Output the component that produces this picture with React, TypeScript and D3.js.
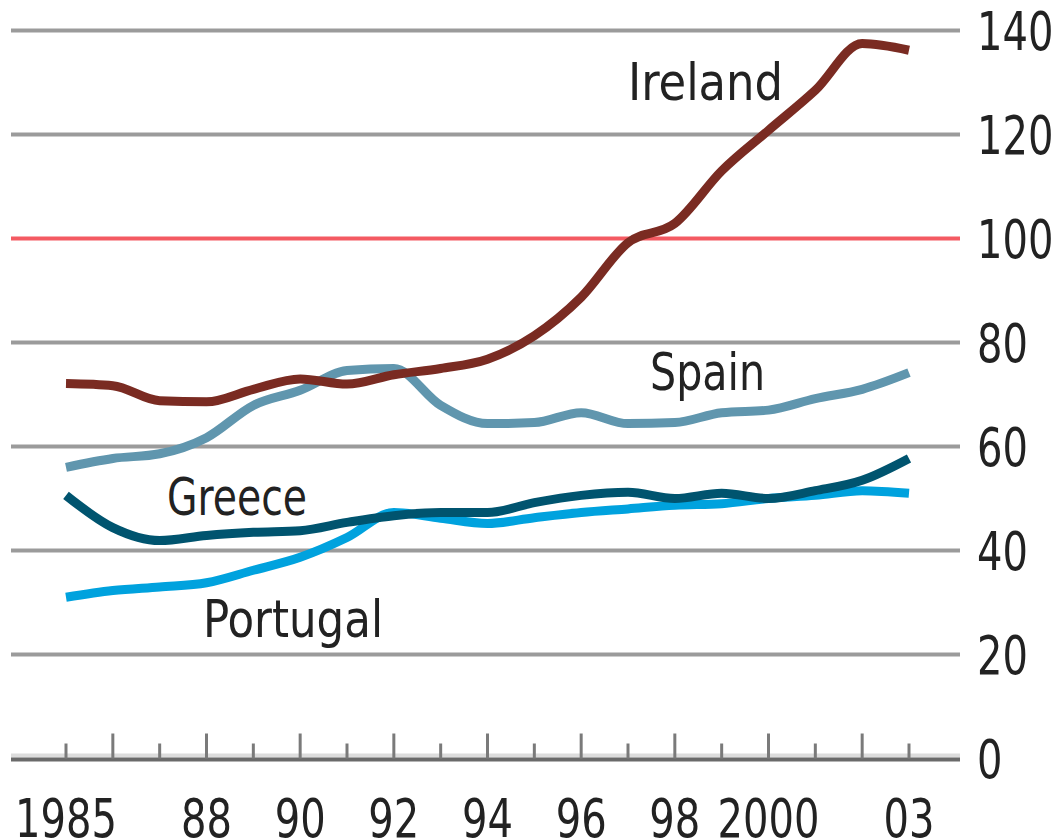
import React, { useEffect, useRef } from "react";
import * as d3 from "d3";

const width = 1057;
const height = 839;

const years = [
  1985, 1986, 1987, 1988, 1989, 1990, 1991, 1992, 1993, 1994, 1995, 1996,
  1997, 1998, 1999, 2000, 2001, 2002, 2003,
];
const ireland = [
  72.1, 71.7, 68.8, 68.6, 71, 73, 72, 73.8, 75, 76.8, 81.3, 88.7, 99.2, 102.9,
  113, 120.8, 128.5, 137.5, 136.2,
];
const spain = [
  56, 57.7, 58.6, 61.7, 67.9, 70.8, 74.6, 75, 67.9, 64.4, 64.6, 66.5, 64.4,
  64.6, 66.5, 67, 69.2, 71, 74.2,
];
const greece = [
  50.6, 44.4, 41.9, 42.9, 43.5, 43.8, 45.4, 46.7, 47.3, 47.3, 49.2, 50.6, 51.2,
  50, 51, 50, 51.5, 53.5, 57.7,
];
const portugal = [
  31, 32.3, 33, 33.8, 36.2, 38.7, 42.5, 47.3, 46.2, 45.2, 46.3, 47.3, 48, 48.7,
  49, 50, 50.6, 51.5, 51,
];
const yTicks = [0, 20, 40, 60, 80, 100, 120, 140];
const xLabels = [
  { year: 1985, text: "1985" },
  { year: 1988, text: "88" },
  { year: 1990, text: "90" },
  { year: 1992, text: "92" },
  { year: 1994, text: "94" },
  { year: 1996, text: "96" },
  { year: 1998, text: "98" },
  { year: 2000, text: "2000" },
  { year: 2003, text: "03" },
];

const series = [
  { name: "Portugal", values: portugal, color: "#00a2de", label: [203, 637, 180] },
  { name: "Greece", values: greece, color: "#00546f", label: [167, 515, 140] },
  { name: "Spain", values: spain, color: "#6096ae", label: [650, 390, 115] },
  { name: "Ireland", values: ireland, color: "#7a2b22", label: [628, 100, 155] },
];

const font = "'DejaVu Sans Condensed', 'DejaVu Sans', sans-serif";
const squeeze = 0.84;

export default function App() {
  const chartRef = useRef<HTMLDivElement>(null);

  useEffect(() => {
    const root = d3.select(chartRef.current);
    root.selectAll("*").remove();

    const x = d3.scaleLinear().domain([1985, 2003]).range([66, 909]);
    const y = d3.scaleLinear().domain([0, 140]).range([758.5, 30.5]);

    const svg = root
      .append("svg")
      .attr("width", width)
      .attr("height", height)
      .style("display", "block");

    svg
      .append("rect")
      .attr("width", width)
      .attr("height", height)
      .attr("fill", "#fff");

    // gridlines
    svg
      .append("g")
      .selectAll("line")
      .data(yTicks.filter((d) => d > 0))
      .join("line")
      .attr("x1", 11)
      .attr("x2", 960)
      .attr("y1", (d) => y(d))
      .attr("y2", (d) => y(d))
      .attr("stroke", (d) => (d === 100 ? "#f45a62" : "#9b9b9b"))
      .attr("stroke-width", 4);

    // baseline
    svg
      .append("line")
      .attr("x1", 11)
      .attr("x2", 960)
      .attr("y1", y(0) - 3)
      .attr("y2", y(0) - 3)
      .attr("stroke", "#dcdcdc")
      .attr("stroke-width", 4);
    svg
      .append("line")
      .attr("x1", 11)
      .attr("x2", 960)
      .attr("y1", y(0) + 1)
      .attr("y2", y(0) + 1)
      .attr("stroke", "#6a6a6a")
      .attr("stroke-width", 4);

    // year ticks
    svg
      .append("g")
      .selectAll("line")
      .data(years)
      .join("line")
      .attr("x1", (d) => x(d))
      .attr("x2", (d) => x(d))
      .attr("y1", (d) => (d % 2 === 0 ? y(0) - 25 : y(0) - 15))
      .attr("y2", y(0))
      .attr("stroke", "#7a7a7a")
      .attr("stroke-width", 3);

    // y labels
    svg
      .append("g")
      .selectAll("text")
      .data(yTicks)
      .join("text")
      .attr("transform", (d) => `translate(977,${y(d)}) scale(${squeeze},1)`)
      .attr("dy", "0.36em")
      .attr("font-family", font)
      .attr("font-size", 53)
      .attr("fill", "#222")
      .text((d) => d);

    // x labels
    svg
      .append("g")
      .selectAll("text")
      .data(xLabels)
      .join("text")
      .attr("transform", (d) => `translate(${x(d.year)},837) scale(${squeeze},1)`)
      .attr("text-anchor", "middle")
      .attr("font-family", font)
      .attr("font-size", 53)
      .attr("fill", "#222")
      .text((d) => d.text);

    const line = d3
      .line<number>()
      .x((_, i) => x(years[i]))
      .y((d) => y(d))
      .curve(d3.curveMonotoneX);

    svg
      .append("g")
      .selectAll("path")
      .data(series)
      .join("path")
      .attr("d", (d) => line(d.values))
      .attr("fill", "none")
      .attr("stroke", (d) => d.color)
      .attr("stroke-width", 9)
      .attr("stroke-linejoin", "round");

    svg
      .append("g")
      .selectAll("text")
      .data(series)
      .join("text")
      .attr("x", (d) => d.label[0])
      .attr("y", (d) => d.label[1])
      .attr("textLength", (d) => d.label[2])
      .attr("lengthAdjust", "spacingAndGlyphs")
      .attr("font-family", font)
      .attr("font-size", 52)
      .attr("fill", "#222")
      .text((d) => d.name);
  }, []);

  return (
    <div
      ref={chartRef}
      style={{ position: "absolute", left: 0, top: 0 }}
    ></div>
  );
}
